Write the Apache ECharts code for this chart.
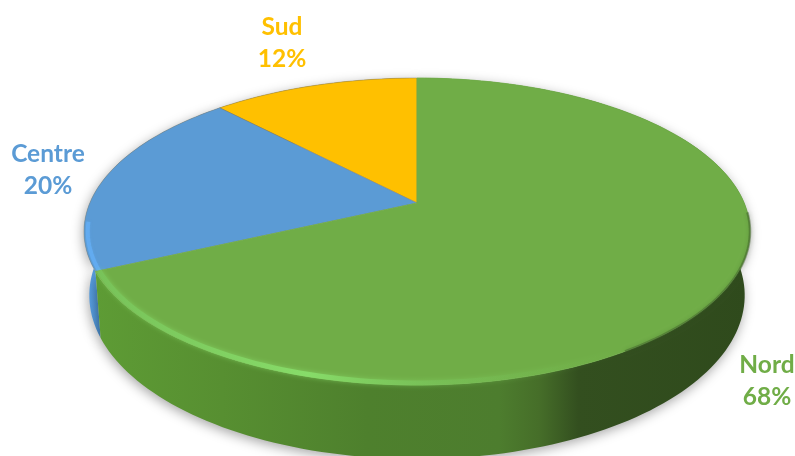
<!DOCTYPE html>
<html><head><meta charset="utf-8">
<style>html,body{margin:0;padding:0;background:#fff}#c{width:795px;height:456px}</style>
<script src="https://cdn.jsdelivr.net/npm/echarts@6/dist/echarts.min.js"></script>
</head><body><div id="c"></div>
<script>
const categories = ['Sud', 'Centre', 'Nord'];
const values = [12, 20, 68];
const topColors = ['#ffc000', '#5b9bd5', '#70ad47'];
const labelCenters = [[282, 43], [48, 170], [767, 381]];

const total = values.reduce((a, b) => a + b, 0);
const K = 0.1857;
const topFace = {ax: 417, ay: 203, rx: 327.2, ry: 148.2};
const rimFace = {ax: 417, ay: 203, rx: 323.5, ry: 146.5};
const baseFace = {ax: 417, ay: 265, rx: 322, ry: 158};

function project(frac, f) {
  const t = frac * 2 * Math.PI;
  const u = -Math.sin(t), v = Math.cos(t), w = 1 + K * v;
  return [f.ax + f.rx * u / w, f.ay - f.ry * v / w];
}
function arc(a, b, f) {
  const n = Math.max(4, Math.ceil((b - a) * 240)), pts = [];
  for (let i = 0; i <= n; i++) pts.push(project(a + (b - a) * i / n, f));
  return pts;
}
function range(i) {
  let s = 0;
  for (let j = 0; j < i; j++) s += values[j];
  return [s / total, (s + values[i]) / total];
}
const wallFill = [
  '#b08600',
  {type: 'linear', global: true, x: 88, y: 0, x2: 104, y2: 0, colorStops: [
    {offset: 0, color: '#5aa2e6'}, {offset: 1, color: '#4a8ac5'}]},
  {type: 'linear', global: true, x: 90, y: 0, x2: 750, y2: 0, colorStops: [
    {offset: 0, color: '#5e9c35'}, {offset: 0.2, color: '#578f31'},
    {offset: 0.42, color: '#4e802d'}, {offset: 0.62, color: '#4d7d2e'},
    {offset: 0.68, color: '#466e29'}, {offset: 0.74, color: '#334f1f'}, {offset: 1, color: '#2f4a1c'}]}
];

const option = {
  animation: false,
  backgroundColor: '#fff',
  series: [
    {
      type: 'custom', coordinateSystem: 'none', z: 1, silent: true,
      data: values,
      renderItem(params) {
        const i = params.dataIndex, [a, b] = range(i);
        const pts = arc(a, b, topFace).concat(arc(a, b, baseFace).reverse());
        return {type: 'polygon', shape: {points: pts},
          style: {fill: wallFill[i], shadowBlur: 12, shadowColor: 'rgba(0,0,0,0.35)', shadowOffsetY: 3, shadowOffsetX: -1}};
      }
    },
    {
      type: 'custom', coordinateSystem: 'none', z: 2, silent: true,
      data: values,
      renderItem(params) {
        const i = params.dataIndex, [a, b] = range(i);
        const pts = [[topFace.ax, topFace.ay]].concat(arc(a, b, topFace));
        const kids = [{type: 'polygon', shape: {points: pts},
          style: {fill: topColors[i], stroke: 'rgba(130,125,100,0.55)', lineWidth: 0.8}}];
        if (categories[i] === 'Centre') {
          kids.push({type: 'polyline', shape: {points: arc(b - 0.05, b, rimFace)},
            style: {fill: 'none', lineWidth: 4, stroke: 'rgba(100,175,245,0.75)', shadowBlur: 3, shadowColor: 'rgba(100,175,245,0.5)'}});
        }
        if (categories[i] === 'Nord') {
          kids[0].style.stroke = topColors[i];
          kids.push({type: 'polyline', shape: {points: arc(a, a + 0.36, rimFace)},
            style: {fill: 'none', lineWidth: 5, shadowBlur: 5, shadowColor: 'rgba(140,225,110,0.6)',
              stroke: {type: 'linear', global: true, x: 100, y: 0, x2: 620, y2: 0, colorStops: [
                {offset: 0, color: 'rgba(120,195,90,0.9)'}, {offset: 0.4, color: 'rgba(135,220,105,1)'},
                {offset: 0.65, color: 'rgba(120,195,90,0.6)'}, {offset: 1, color: 'rgba(112,173,71,0)'}]}}});
          kids.push({type: 'polyline', shape: {points: arc(a + 0.27, a + 0.42, topFace)},
            style: {fill: 'none', lineWidth: 2.5, stroke: 'rgba(60,90,40,0.45)', shadowBlur: 4, shadowColor: 'rgba(50,80,30,0.5)'}});
        }
        return {type: 'group', children: kids};
      }
    },
    {
      type: 'custom', coordinateSystem: 'none', z: 3, silent: true,
      data: values,
      renderItem(params) {
        const i = params.dataIndex;
        return {type: 'text', x: labelCenters[i][0], y: labelCenters[i][1],
          style: {text: categories[i] + '\n' + values[i] + '%', fill: topColors[i],
            font: 'bold 24.5px Lato', lineHeight: 32, align: 'center', verticalAlign: 'middle'}};
      }
    }
  ]
};
echarts.init(document.getElementById('c'), null, {renderer: 'canvas'}).setOption(option);
</script></body></html>
